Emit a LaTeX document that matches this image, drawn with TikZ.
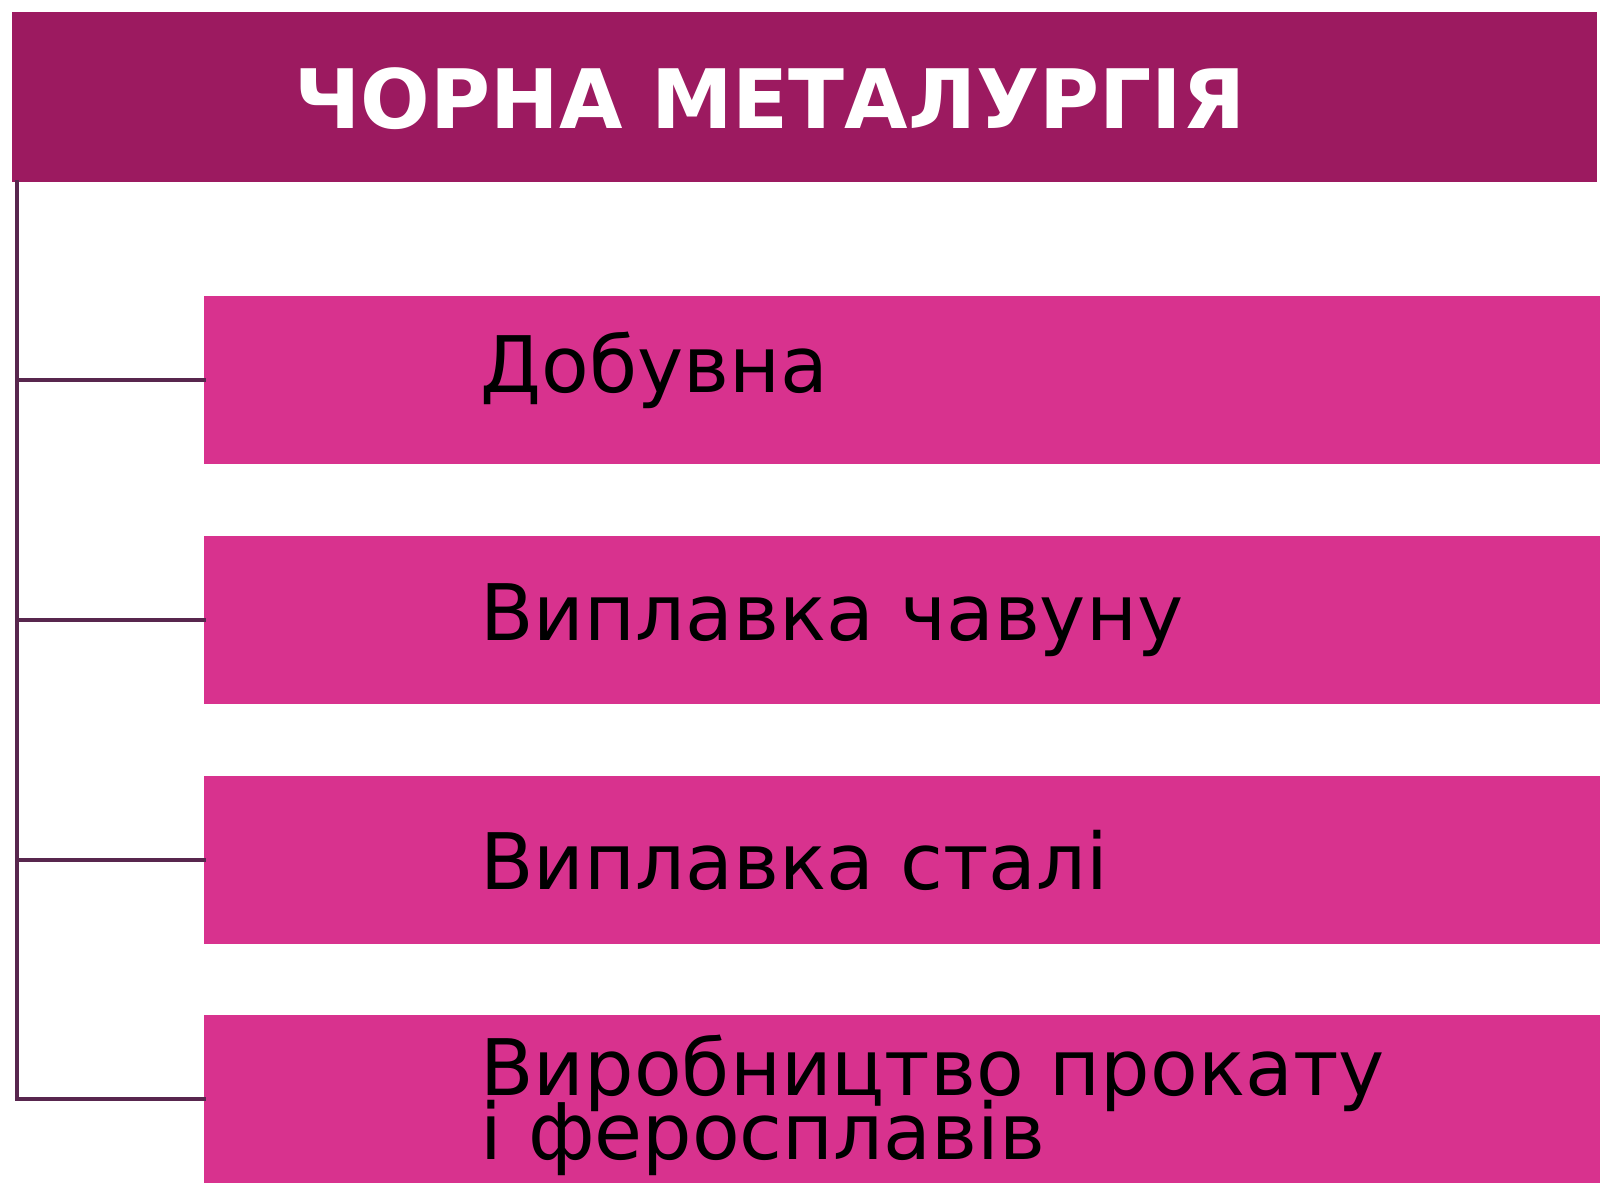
\documentclass[tikz,border=0pt]{standalone}
\usepackage{fontspec}
\setmainfont{DejaVu Sans}
\usepackage{xcolor}
\usepackage{tikz}
\definecolor{headcol}{RGB}{156,26,96}
\definecolor{boxcol}{RGB}{216,50,142}
\definecolor{linecol}{RGB}{88,38,78}
\newcommand*{\boxLeft}{204}
\newcommand*{\lineX}{17}
\newcommand*{\stageFont}{\fontsize{39}{32}\selectfont\lineskiplimit=-40pt\relax}
\tikzset{
  headtxt/.style={text=white, inner sep=0pt, font=\bfseries\fontsize{41}{41}\selectfont},
  stage/.style={fill=boxcol, anchor=west, minimum width=698pt, minimum height=84pt,
    inner xsep=138pt, inner ysep=0pt, text width=500pt, align=left, font=\stageFont},
  link/.style={draw=linecol, line width=2pt, line cap=rect}
}

\begin{document}
\begin{tikzpicture}[x=0.5pt,y=-0.5pt]
    \useasboundingbox (0,0) rectangle (1600,1200);

    % header bar
    \fill [headcol] (12,12) rectangle (1597,182);
    \node [headtxt] (head) at (770,99) {ЧОРНА МЕТАЛУРГІЯ};

    % stages
    \node [stage] (s1) at (\boxLeft,380) {\raisebox{18pt}{Добувна}};
    \node [stage] (s2) at (\boxLeft,620) {Виплавка чавуну};
    \node [stage] (s3) at (\boxLeft,860) {Виплавка сталі};
    \node [stage] (s4) at (\boxLeft,1099) {\rule{0pt}{37pt}Виробництво прокату\\і феросплавів};

    % connectors
    \coordinate (top) at (\lineX,182);
    \foreach \i in {1,...,4} {
      \draw [link] (s\i.west) -- (s\i.west -| top);
    }
    \draw [link] (top) -- (top |- s4.west);
  \end{tikzpicture}
\end{document}
